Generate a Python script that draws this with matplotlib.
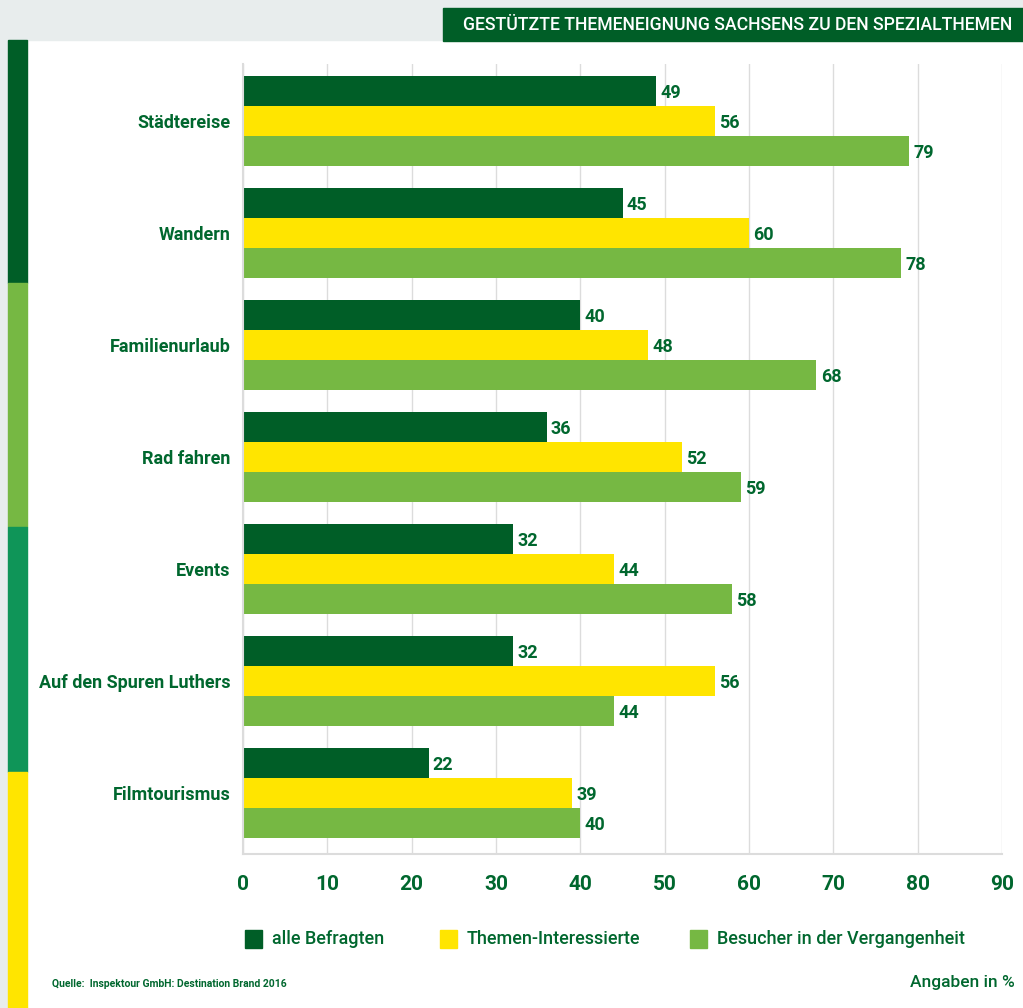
import numpy as np
import matplotlib.pyplot as plt
from matplotlib.patches import Rectangle
from matplotlib import font_manager

categories = ["Städtereise", "Wandern", "Familienurlaub", "Rad fahren",
              "Events", "Auf den Spuren Luthers", "Filmtourismus"]
alle = [49, 45, 40, 36, 32, 32, 22]
interessierte = [56, 60, 48, 52, 44, 56, 39]
besucher = [79, 78, 68, 59, 58, 44, 40]
series_names = ["alle Befragten", "Themen-Interessierte", "Besucher in der Vergangenheit"]
ticks = list(range(0, 100, 10))
title = "GESTÜTZTE THEMENEIGNUNG SACHSENS ZU DEN SPEZIALTHEMEN"

DARK = "#005e27"
YELLOW = "#ffe500"
LIGHT = "#76b843"
MID = "#0f9558"
TXT = "#00672e"
BG = "#e8eded"
GRID = "#dcdcdc"

names = sorted({f.name for f in font_manager.fontManager.ttflist})
fam = ["Liberation Sans Narrow", "DejaVu Sans"] if "Liberation Sans Narrow" in names else ["Roboto", "DejaVu Sans"]
plt.rcParams["font.family"] = fam

fig = plt.figure(figsize=(10.23, 10.08), dpi=100)
fig.patch.set_facecolor("white")
W, H = 1023, 1008

def px(x0, y0, w, h, color):
    fig.patches.append(Rectangle((x0 / W, 1 - (y0 + h) / H), w / W, h / H,
                                 transform=fig.transFigure, color=color, zorder=0))

# background frame
px(0, 0, W, 40, BG)
px(0, 0, 8, H, BG)
# left colour stripe
px(8, 40, 19, 243, DARK)
px(8, 283, 19, 244, LIGHT)
px(8, 527, 19, 245, MID)
px(8, 772, 19, 236, YELLOW)
# title box
px(443, 8, 580, 33, DARK)
t = fig.text(463 / W, 1 - 25 / H, title, color="white", fontsize=11,
             fontweight="medium", va="center", ha="left")
r = fig.canvas.get_renderer()
w = t.get_window_extent(r).width
t.set_fontsize(11 * 552 / w)

ax = fig.add_axes([243 / W, 1 - 854 / H, (1002 - 243) / W, (854 - 64) / H])
n = len(categories)
y = np.arange(n)
bh = 30 / 112
for i, (vals, col) in enumerate(zip([alle, interessierte, besucher], [DARK, YELLOW, LIGHT])):
    pos = y + (i - 1) * bh
    ax.barh(pos, vals, height=bh, color=col, zorder=2, label=series_names[i])
    for p, v in zip(pos, vals):
        ax.text(v + 0.5, p + 0.02, str(v), va="center", ha="left", color=TXT,
                fontsize=13, fontweight="bold")

ax.set_xlim(0, 90)
ax.set_ylim(n - 1 + 0.545, -0.51)
ax.set_xticks(ticks)
ax.set_xticklabels([str(t) for t in ticks])
ax.set_yticks(y)
ax.set_yticklabels(categories)
ax.tick_params(axis="x", length=0, pad=15, labelsize=15, labelcolor=TXT)
ax.tick_params(axis="y", length=0, pad=9, labelsize=13, labelcolor=TXT)
for lab in ax.get_xticklabels() + ax.get_yticklabels():
    lab.set_fontweight("bold")
ax.grid(axis="x", color=GRID, lw=1, zorder=0)
for s in ["top", "right"]:
    ax.spines[s].set_visible(False)
for s in ["left", "bottom"]:
    ax.spines[s].set_color(GRID)
    ax.spines[s].set_linewidth(1.5)

# legend
leg_x = [245, 440, 690]
for lx, col, name in zip(leg_x, [DARK, YELLOW, LIGHT], series_names):
    px(lx, 930, 17, 18, col)
    fig.text((lx + 27) / W, 1 - 939 / H, name, color=TXT, fontsize=13,
             fontweight="medium", va="center", ha="left")

fig.text(52 / W, 1 - 984 / H, "Quelle:  Inspektour GmbH: Destination Brand 2016", color=TXT,
         fontsize=7.5, fontweight="bold", va="center", ha="left")
fig.text(1015 / W, 1 - 982 / H, "Angaben in %", color=TXT, fontsize=12.5,
         fontweight="medium", va="center", ha="right")

fig.savefig("out.png", dpi=100, facecolor="white")
